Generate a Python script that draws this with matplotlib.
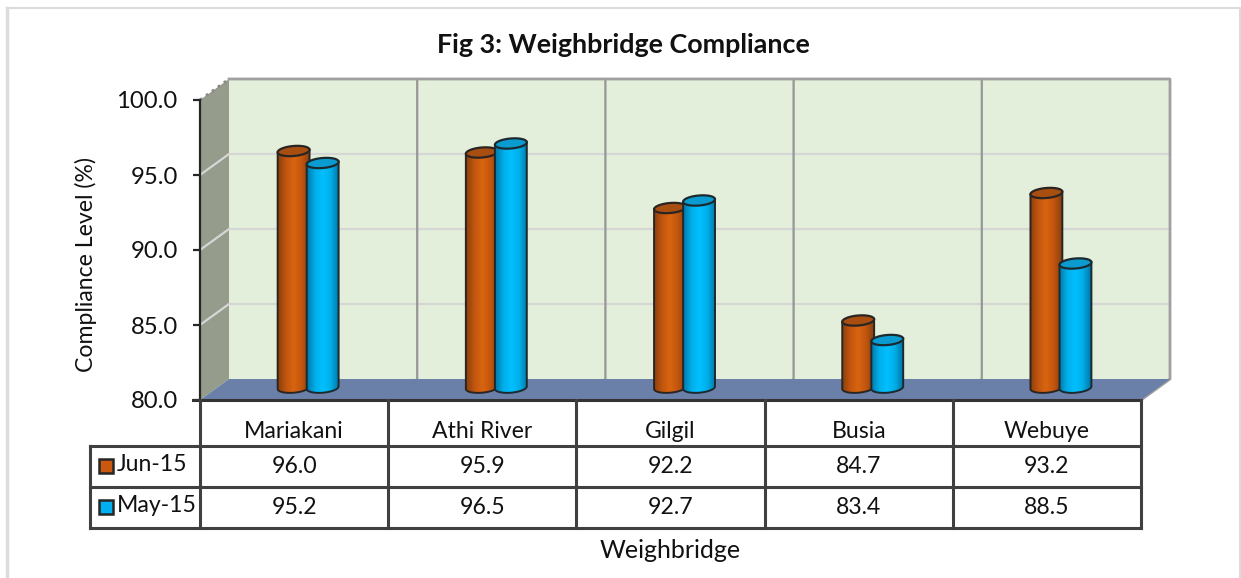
import numpy as np
import matplotlib
matplotlib.use("Agg")
import matplotlib.pyplot as plt
from matplotlib.patches import Polygon, PathPatch, Rectangle
from matplotlib.path import Path
from matplotlib.colors import LinearSegmentedColormap

categories = ["Mariakani", "Athi River", "Gilgil", "Busia", "Webuye"]
jun15 = [96.0, 95.9, 92.2, 84.7, 93.2]
may15 = [95.2, 96.5, 92.7, 83.4, 88.5]
series_names = ["Jun-15", "May-15"]
yticks = [80, 85, 90, 95, 100]
title = "Fig 3: Weighbridge Compliance"
ylabel = "Compliance Level (%)"
xlabel = "Weighbridge"

W, H = 1241, 578
plt.rcParams["font.family"] = ["Lato", "DejaVu Sans"]
fig = plt.figure(figsize=(W/100, H/100), dpi=100, facecolor="white")

bg = fig.add_axes([0, 0, 1, 1])
bg.set_xlim(0, W); bg.set_ylim(H, 0); bg.axis("off")
bg.plot([1239.5, 1239.5, 7], [578, 8, 8], color="#dcdcdc", lw=1.5)
bg.plot([7, 7], [8, 578], color="#dcdcdc", lw=2.5)

L, R, T, B = 200, 1141, 100, 400
ax = fig.add_axes([L/W, 1-B/H, (R-L)/W, (B-T)/H])
ax.set_xlim(0, 5); ax.set_ylim(80, 100)
ax.patch.set_alpha(0)
for s in ["top", "right", "bottom"]:
    ax.spines[s].set_visible(False)
ax.spines["left"].set_color("#262626"); ax.spines["left"].set_linewidth(1.6)
ax.spines["left"].set_zorder(3)
ax.set_xticks([])
ax.set_yticks(yticks)
ax.set_yticklabels([f"{v:.1f}" for v in yticks], fontsize=17.2, color="#111111")
ax.tick_params(axis="y", length=5, width=1.6, color="#262626", pad=11)

px, py = 188.2, 15.0
dx, dy = 29/px, 21/py
ax.add_patch(Polygon([(dx, 80+dy), (5+dx, 80+dy), (5+dx, 100+dy), (dx, 100+dy)], fc="#e3efda", ec="none", zorder=1, clip_on=False))
ax.add_patch(Polygon([(0, 80), (dx, 80+dy), (dx, 100+dy), (0, 100)], fc="#959c8b", ec="none", zorder=1, clip_on=False))
ax.add_patch(Polygon([(0, 80), (5, 80), (5+dx, 80+dy), (dx, 80+dy)], fc="#6b80a8", ec="none", zorder=2, clip_on=False))
for v in yticks[1:-1]:
    ax.plot([0, dx, 5+dx], [v, v+dy, v+dy], color="#d6d6d6", lw=1.6, zorder=1.5, clip_on=False)
for i in range(1, 5):
    ax.plot([i, i+dx, i+dx], [80, 80+dy, 100+dy], color="#969696", lw=1.6, zorder=1.6, clip_on=False)
ax.plot([dx, 5+dx, 5+dx, 5], [100+dy, 100+dy, 80+dy, 80], color="#a0a0a0", lw=2, zorder=1.7, clip_on=False)
ax.plot([0, dx], [100, 100+dy], color="#8a8a8a", lw=2, ls=":", zorder=1.7, clip_on=False)

TILT = np.radians(5)

def ellipse_xy(xc, yc, t):
    a, b = 16.0, 5.0
    ex = a*np.cos(t)*np.cos(TILT) - b*np.sin(t)*np.sin(TILT)
    ey = a*np.cos(t)*np.sin(TILT) + b*np.sin(t)*np.cos(TILT)
    return xc+ex/px, yc+ey/py

def cyl(xc, val, dark, mid, light, top, edge, z):
    w = 32/px
    base, yt = 80+dy/2+0.12, val+dy/2-0.1
    x0, x1 = xc-w/2, xc+w/2
    t = np.linspace(np.pi, 2*np.pi, 30)
    bx, by = ellipse_xy(xc, base, t)
    rx, ry = ellipse_xy(xc, yt, np.array([0.0]))
    lx, ly = ellipse_xy(xc, yt, np.array([np.pi]))
    verts = [(lx[0], ly[0])]+list(zip(bx, by))+[(rx[0], ry[0]), (lx[0], ly[0])]
    path = Path(verts, [Path.MOVETO]+[Path.LINETO]*(len(verts)-2)+[Path.CLOSEPOLY])
    cm = LinearSegmentedColormap.from_list("c", [dark, mid, light, mid, dark])
    im = ax.imshow(np.linspace(0, 1, 64)[None, :], cmap=cm, extent=(x0, x1, base-1, yt+1), aspect="auto", zorder=z, interpolation="bilinear")
    patch = PathPatch(path, fc="none", ec=edge, lw=1.4, zorder=z+0.1, clip_on=False)
    ax.add_patch(patch)
    im.set_clip_path(patch)
    tt = np.linspace(0, 2*np.pi, 60)
    ex, ey = ellipse_xy(xc, yt, tt)
    ax.add_patch(Polygon(np.column_stack([ex, ey]), fc=top, ec=edge, lw=1.6, zorder=z+0.2, clip_on=False))

cx = np.arange(5)+0.5
sh = 15/px
for i in range(5):
    cyl(cx[i]+dx/2-sh, jun15[i], "#8a3f0c", "#c2560f", "#d8650f", "#a84e10", "#2a2522", 5)
    cyl(cx[i]+dx/2+sh-0.005, may15[i], "#0077a8", "#00aee8", "#00c0ff", "#0a9cd0", "#1c2a30", 6)
ax.set_xlim(0, 5); ax.set_ylim(80, 100)

lc = "#404040"
X = [L+188.2*i for i in range(6)]
rows = [400, 446, 487, 528]
left = 90
bg.plot([L-7, R], [400, 400], color="#333333", lw=2.2)
for x in X:
    bg.plot([x, x], [400, 528], color=lc, lw=2.2)
for y in rows[1:]:
    bg.plot([left, R], [y, y], color=lc, lw=2.2)
bg.plot([left, left], [446, 528], color=lc, lw=2.2)
fs = 16.6
for i, c in enumerate(categories):
    mid = (X[i]+X[i+1])/2
    bg.text(mid, 431, c, ha="center", va="center", fontsize=fs, color="#111111")
    bg.text(mid, 466.5, f"{jun15[i]:.1f}", ha="center", va="center", fontsize=fs, color="#111111")
    bg.text(mid, 507.5, f"{may15[i]:.1f}", ha="center", va="center", fontsize=fs, color="#111111")
for y, n, c in zip([465.5, 506.5], series_names, ["#c8590f", "#00b0f0"]):
    bg.add_patch(Rectangle((99, y-7), 14, 14, fc=c, ec="#262626", lw=1.8))
    bg.text(116.5, y-1, n, ha="left", va="center", fontsize=fs, color="#111111")

bg.text(623.5, 45, title, ha="center", va="center", fontsize=19.4, fontweight="bold", color="#111111")
bg.text(86, 264.5, ylabel, ha="center", va="center", rotation=90, fontsize=16.6, color="#111111")
bg.text(670, 550, xlabel, ha="center", va="center", fontsize=18, color="#111111")
bg.set_zorder(ax.get_zorder()+1)
bg.patch.set_alpha(0)

fig.savefig("out.png", dpi=100)
